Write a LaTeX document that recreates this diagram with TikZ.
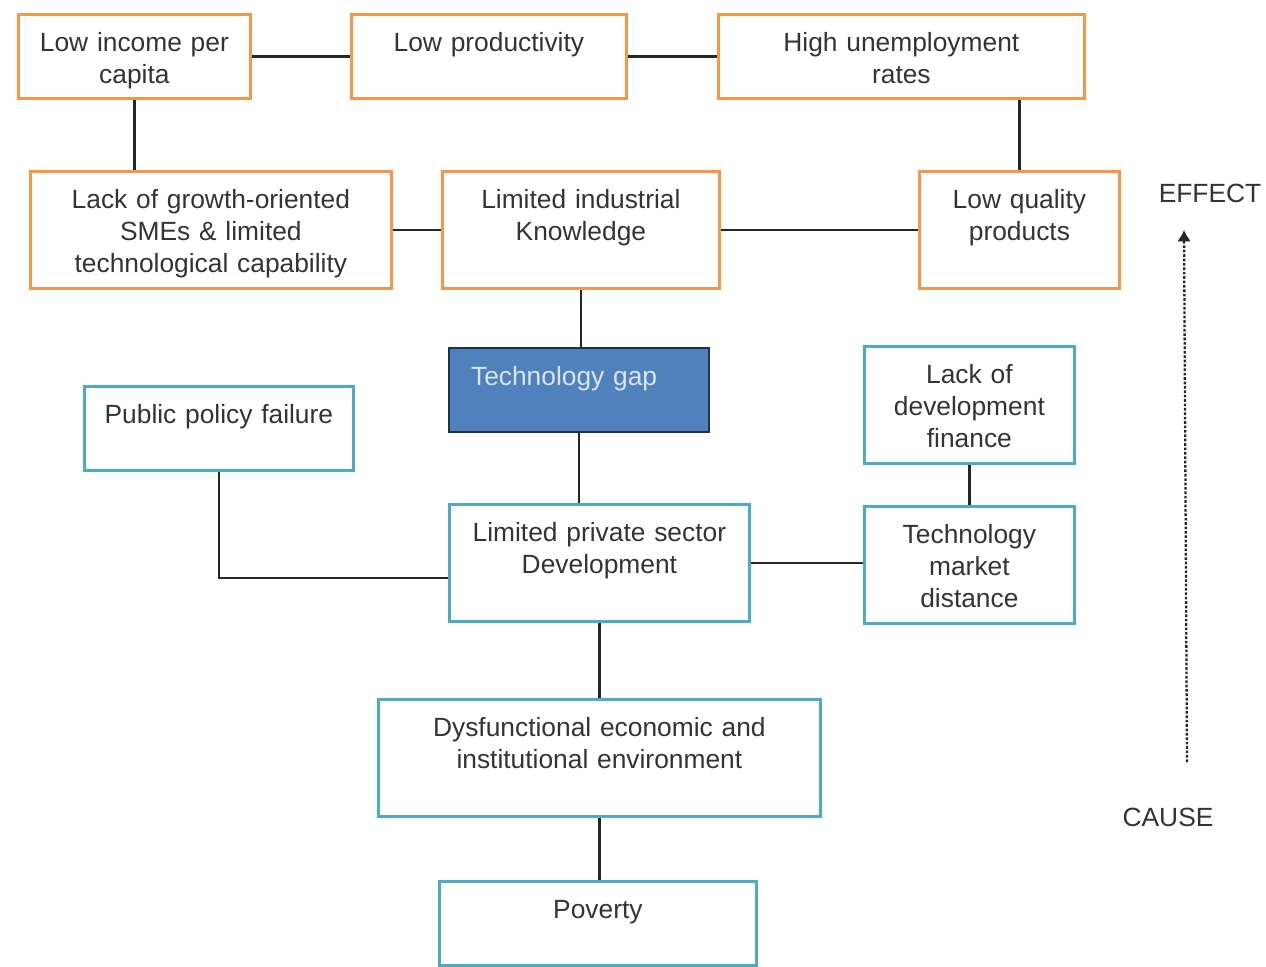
\documentclass[tikz,border=0pt]{standalone}
\usepackage{fontspec}
\setmainfont{Liberation Sans}
\usetikzlibrary{arrows,arrows.meta}
\definecolor{effect}{HTML}{F79646}
\definecolor{cause}{HTML}{4BACC6}
\definecolor{gapfill}{HTML}{4F81BD}
\definecolor{gapline}{HTML}{1F3350}

\begin{document}
\begin{tikzpicture}[x=0.02cm,y=-0.02cm,>={Latex[length=6.5pt,width=8pt]},
	font=\fontsize{15}{18.2}\selectfont]
	\tikzstyle{box}=[draw=#1,line width=1.6pt,inner sep=0pt,align=center,
		anchor=north west,text=black!80,text height=0.74cm]
	\tikzstyle{short}=[text depth=0.94cm]
	\tikzstyle{tall}=[text depth=1.6cm]
	\tikzstyle{link}=[draw=black!85,line width=1.3pt]
	\useasboundingbox (0,0) rectangle (1266,966);
	
	% effects
	\node[box=effect,short,text width=4.64cm] (inc)   at (17,13)  {Low income per\\capita};
	\node[box=effect,short,text width=5.5cm]  (prod)  at (350,13) {Low productivity};
	\node[box=effect,short,text width=7.32cm] (unemp) at (717,13) {High unemployment\\rates};
	\node[box=effect,tall,text width=7.22cm]  (smes)  at (29,170) {Lack of growth-oriented\\SMEs \& limited\\technological capability};
	\node[box=effect,tall,text width=5.54cm]  (know)  at (441,170) {Limited industrial\\Knowledge};
	\node[box=effect,tall,text width=4cm]     (qual)  at (918,170) {Low quality\\products};
	
	\node[box=gapline,short,line width=1.2pt,fill=gapfill,text=gapfill!20,align=left,
		inner xsep=0.44cm,text width=4.32cm] (gap) at (448,347) {Technology gap};
	
	% causes
	\node[box=cause,short,text width=5.38cm] (policy)  at (83,385)  {Public policy failure};
	\node[box=cause,tall,text width=4.2cm]   (finance) at (863,345) {Lack of\\development\\finance};
	\node[box=cause,tall,text width=6cm]     (private) at (448,503) {Limited private sector\\Development};
	\node[box=cause,tall,text width=4.2cm]   (market)  at (863,505) {Technology\\market\\distance};
	\node[box=cause,tall,text width=8.84cm]  (env)     at (377,698) {Dysfunctional economic and\\institutional environment};
	\node[box=cause,short,text width=6.34cm] (poverty) at (438,880) {Poverty};
	
	\draw[link] (inc.east) -- (prod.west);
	\draw[link] (prod.east) -- (unemp.west);
	\draw[link] (smes.east) -- (know.west);
	\draw[link] (know.east) -- (qual.west);
	\draw[link] (private.east) -- (private.east -| market.west);
	\draw[link] (finance.south) -- (market.north);
	\draw[link] (inc.south) -- (inc.south |- smes.north);
	\draw[link] (qual.north) -- (qual.north |- unemp.south);
	\draw[link] (know.south) -- (know.south |- gap.north);
	\draw[link] (gap.south) -- (gap.south |- private.north);
	\draw[link] (private.south) -- (private.south |- env.north);
	\draw[link] (env.south) -- (env.south |- poverty.north);
	\draw[link] (policy.south) |- ([yshift=-0.3cm]private.west);
	
	% cause -> effect
	\node[text=black!80] (effect) at (1210,193) {EFFECT};
	\node[text=black!80] (cause)  at (1168,817) {CAUSE};
	\coordinate (tail) at (1187,762);
	\coordinate (head) at (1184,230);
	\draw[->,line width=1.3pt,dash pattern=on 1.5pt off 1pt,black!85] (tail) -- (head);
	
\end{tikzpicture}
\end{document}
